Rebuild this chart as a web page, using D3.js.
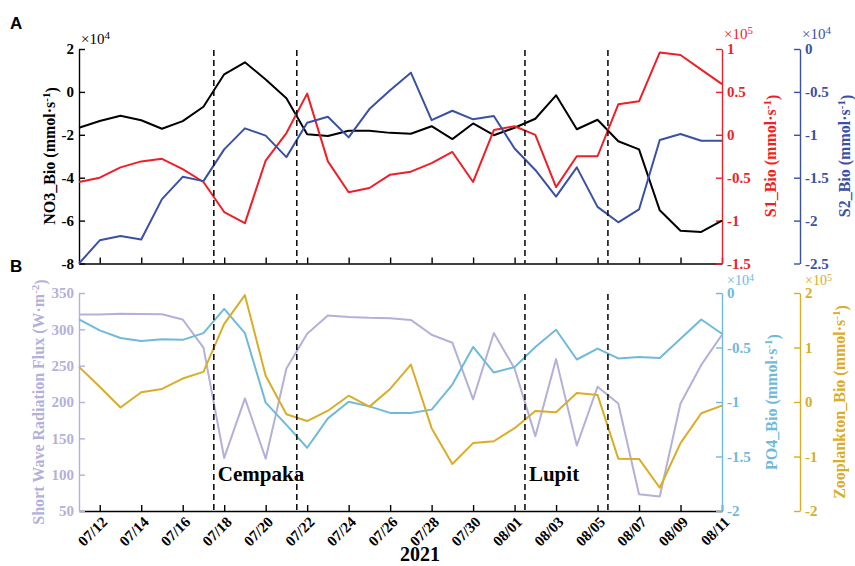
<!DOCTYPE html>
<html>
<head>
<meta charset="utf-8">
<script src="https://cdn.jsdelivr.net/npm/d3@7"></script>
<style>
  html, body { margin: 0; padding: 0; background: #fff; }
  svg { display: block; }
</style>
</head>
<body>
<svg id="chart" width="855" height="566"></svg>
<script>
// Daily dates, 2021-07-11 .. 2021-08-11
const dates = [
  "2021-07-11","2021-07-12","2021-07-13","2021-07-14","2021-07-15","2021-07-16","2021-07-17","2021-07-18",
  "2021-07-19","2021-07-20","2021-07-21","2021-07-22","2021-07-23","2021-07-24","2021-07-25","2021-07-26",
  "2021-07-27","2021-07-28","2021-07-29","2021-07-30","2021-07-31","2021-08-01","2021-08-02","2021-08-03",
  "2021-08-04","2021-08-05","2021-08-06","2021-08-07","2021-08-08","2021-08-09","2021-08-10","2021-08-11"
];

// Panel A series
const no3Bio = [-1.67,-1.36,-1.11,-1.32,-1.72,-1.36,-0.69,0.82,1.38,0.58,-0.30,-1.97,-2.06,-1.81,-1.81,-1.91,
                -1.95,-1.60,-2.20,-1.47,-2.02,-1.67,-1.25,-0.16,-1.74,-1.30,-2.30,-2.68,-5.52,-6.47,-6.53,-6.00];   // x10^4
const s1Bio  = [-0.55,-0.50,-0.38,-0.31,-0.28,-0.40,-0.55,-0.90,-1.03,-0.30,0.02,0.48,-0.31,-0.67,-0.62,-0.465,
                -0.43,-0.33,-0.20,-0.55,0.055,0.10,0.00,-0.61,-0.25,-0.25,0.355,0.39,0.96,0.93,0.76,0.59];       // x10^5
const s2Bio  = [-2.50,-2.23,-2.18,-2.22,-1.75,-1.49,-1.54,-1.17,-0.925,-1.01,-1.26,-0.86,-0.79,-1.03,-0.70,-0.48,
                -0.276,-0.83,-0.72,-0.82,-0.78,-1.16,-1.41,-1.72,-1.38,-1.84,-2.02,-1.87,-1.06,-0.99,-1.07,-1.07]; // x10^4

// Panel B series
const swRad  = [320.4,320.4,321.3,321,320.8,313.5,274.8,123,205,122,246,294,319,317,315.8,315.4,
                313,292.6,281.6,203.7,295,246,153,259,140,221,198,73,70,198,251,292.6];
const po4Bio = [-0.243,-0.343,-0.413,-0.44,-0.425,-0.43,-0.368,-0.146,-0.368,-1.006,-1.21,-1.42,-1.15,-0.997,-1.04,-1.10,
                -1.10,-1.07,-0.84,-0.495,-0.73,-0.68,-0.495,-0.337,-0.61,-0.51,-0.60,-0.587,-0.596,-0.42,-0.243,-0.374]; // x10^4
const zooBio = [0.644,0.28,-0.10,0.18,0.24,0.43,0.553,1.435,1.96,0.48,-0.225,-0.35,-0.16,0.115,-0.085,0.24,
                0.687,-0.48,-1.137,-0.754,-0.72,-0.48,-0.164,-0.19,0.164,0.13,-1.04,-1.045,-1.574,-0.754,-0.207,-0.067]; // x10^5

// Typhoon passage markers
const eventTimes = ["2021-07-17T12:00","2021-07-21T12:00","2021-08-01T12:00","2021-08-05T12:00"];
const typhoonNames = ["Cempaka","Lupit"];

// Tick values
const xTickDates = ["2021-07-12","2021-07-14","2021-07-16","2021-07-18","2021-07-20","2021-07-22","2021-07-24",
                    "2021-07-26","2021-07-28","2021-07-30","2021-08-01","2021-08-03","2021-08-05","2021-08-07",
                    "2021-08-09","2021-08-11"];
const no3Ticks = [-8,-6,-4,-2,0,2];
const s1Ticks  = [-1.5,-1,-0.5,0,0.5,1];
const s2Ticks  = [-2.5,-2,-1.5,-1,-0.5,0];
const swTicks  = [50,100,150,200,250,300,350];
const po4Ticks = [-2,-1.5,-1,-0.5,0];
const zooTicks = [-2,-1,0,1,2];

const C = {
  black: "#000000", red: "#ee1f26", blue: "#3a51a3",
  lav: "#b3b0da", cyan: "#6fbad8", gold: "#d9ad28"
};
const SERIF = "'Liberation Serif','Times New Roman',serif";
const SANS = "'Liberation Sans',Arial,sans-serif";

const parseDay = d3.timeParse("%Y-%m-%d");
const parseTime = d3.timeParse("%Y-%m-%dT%H:%M");
const days = dates.map(parseDay);

const svg = d3.select("#chart");
const L = 79, R = 722, R2 = 800;
const topPanel = [49, 263.5];
const botPanel = [293, 511];

const x = d3.scaleTime().domain([days[0], days[days.length - 1]]).range([L, R]);

const yNO3 = d3.scaleLinear().domain([-8, 2]).range([topPanel[1], topPanel[0]]);
const yS1  = d3.scaleLinear().domain([-1.5, 1]).range([topPanel[1], topPanel[0]]);
const yS2  = d3.scaleLinear().domain([-2.5, 0]).range([topPanel[1], topPanel[0]]);
const ySW  = d3.scaleLinear().domain([50, 350]).range([botPanel[1], botPanel[0]]);
const yPO4 = d3.scaleLinear().domain([-2, 0]).range([botPanel[1], botPanel[0]]);
const yZoo = d3.scaleLinear().domain([-2, 2]).range([botPanel[1], botPanel[0]]);

function styleAxis(g, color) {
  g.select(".domain").attr("stroke", color).attr("stroke-width", 1.4);
  g.selectAll(".tick line").attr("stroke", color).attr("stroke-width", 1.4);
  g.selectAll(".tick text").attr("fill", color)
    .style("font-family", SERIF).style("font-weight", "bold").style("font-size", "15px");
}

function yAxis(orient, scale, ticks, xPos, color) {
  const ax = (orient === "left" ? d3.axisLeft(scale) : d3.axisRight(scale))
    .tickValues(ticks).tickSizeInner(-6).tickSizeOuter(0).tickPadding(5)
    .tickFormat(d => String(d));
  const g = svg.append("g").attr("transform", `translate(${xPos},0)`).call(ax);
  styleAxis(g, color);
  return g;
}

function line(scale, values) {
  return d3.line().x((d, i) => x(days[i])).y(d => scale(d))(values);
}

function drawSeries(scale, values, color) {
  svg.append("path").attr("d", line(scale, values))
    .attr("fill", "none").attr("stroke", color).attr("stroke-width", 2)
    .attr("stroke-linejoin", "round");
}

function axisTitle(xPos, yPos, color, main, sup, tail) {
  const t = svg.append("text")
    .attr("transform", `translate(${xPos},${yPos}) rotate(-90)`)
    .attr("text-anchor", "middle")
    .attr("fill", color)
    .style("font-family", SERIF).style("font-weight", "bold").style("font-size", "16px");
  t.append("tspan").text(main);
  t.append("tspan").attr("dy", "-0.45em").style("font-size", "11px").text(sup);
  t.append("tspan").attr("dy", "0.45em").text(tail);
}

function expLabel(xPos, yPos, color, exp, size) {
  const t = svg.append("text").attr("x", xPos).attr("y", yPos).attr("fill", color)
    .style("font-family", SERIF).style("font-size", size + "px");
  t.append("tspan").text("\u00d710");
  t.append("tspan").attr("dy", "-0.45em").style("font-size", Math.round(size * 0.72) + "px").text(exp);
}

// ---------- Panel A ----------
const xTicks = xTickDates.map(parseDay);
const xTopAxis = d3.axisBottom(x).tickValues(xTicks).tickSizeInner(-6).tickSizeOuter(0).tickFormat("");
const gxTop = svg.append("g").attr("transform", `translate(0,${topPanel[1]})`).call(xTopAxis);
styleAxis(gxTop, C.black);

yAxis("left", yNO3, no3Ticks, L, C.black);
yAxis("right", yS1, s1Ticks, R, C.red);
yAxis("right", yS2, s2Ticks, R2, C.blue);

drawSeries(yNO3, no3Bio, C.black);
drawSeries(yS1, s1Bio, C.red);
drawSeries(yS2, s2Bio, C.blue);

axisTitle(55, 156, C.black, "NO3_Bio (mmol\u00b7s", "-1", ")");
axisTitle(776, 156, C.red, "S1_Bio (mmol\u00b7s", "-1", ")");
axisTitle(850, 156, C.blue, "S2_Bio (mmol\u00b7s", "-1", ")");

expLabel(81, 44, C.black, "4", 15);
expLabel(724, 39, C.red, "5", 15);
expLabel(802, 39, C.blue, "4", 15);

// ---------- Panel B ----------
const xBotAxis = d3.axisBottom(x).tickValues(xTicks).tickSizeInner(-6).tickSizeOuter(0)
  .tickFormat(d3.timeFormat("%m/%d"));
const gxBot = svg.append("g").attr("transform", `translate(0,${botPanel[1]})`).call(xBotAxis);
styleAxis(gxBot, C.black);
gxBot.selectAll(".tick text")
  .attr("text-anchor", "end")
  .attr("dy", null).attr("y", null)
  .attr("transform", "translate(8,12) rotate(-45)")
  .style("font-size", "15px");

yAxis("left", ySW, swTicks, L, C.lav);
yAxis("right", yPO4, po4Ticks, R, C.cyan);
yAxis("right", yZoo, zooTicks, R2, C.gold);

drawSeries(ySW, swRad, C.lav);
drawSeries(yPO4, po4Bio, C.cyan);
drawSeries(yZoo, zooBio, C.gold);

axisTitle(44, 402, C.lav, "Short Wave Radiation Flux (W\u00b7m", "-2", ")");
axisTitle(777, 402, C.cyan, "PO4_Bio (mmol\u00b7s", "-1", ")");
axisTitle(845, 402, C.gold, "Zooplankton_Bio (mmol\u00b7s", "-1", ")");

expLabel(727, 285, C.cyan, "4", 14);
expLabel(805, 285, C.gold, "5", 14);

// Typhoon markers
const events = eventTimes.map(parseTime);
[topPanel, botPanel].forEach(p => {
  svg.append("g").selectAll("line").data(events).join("line")
    .attr("x1", d => x(d)).attr("x2", d => x(d))
    .attr("y1", p[0] + 1).attr("y2", p[1])
    .attr("stroke", "#111").attr("stroke-width", 1.6).attr("stroke-dasharray", "6,4");
});
svg.append("g").selectAll("text").data(typhoonNames).join("text")
  .attr("x", (d, i) => x(events[i * 2]) + 4)
  .attr("y", 481)
  .style("font-family", SERIF).style("font-weight", "bold").style("font-size", "21px")
  .text(d => d);

// Year label
svg.append("text").attr("x", 420).attr("y", 561).attr("text-anchor", "middle")
  .style("font-family", SERIF).style("font-weight", "bold").style("font-size", "20px")
  .text("2021");

// Panel letters
svg.append("text").attr("x", 10).attr("y", 29).text("A")
  .style("font-family", SANS).style("font-weight", "bold").style("font-size", "17px");
svg.append("text").attr("x", 10).attr("y", 272).text("B")
  .style("font-family", SANS).style("font-weight", "bold").style("font-size", "17px");
</script>
</body>
</html>
